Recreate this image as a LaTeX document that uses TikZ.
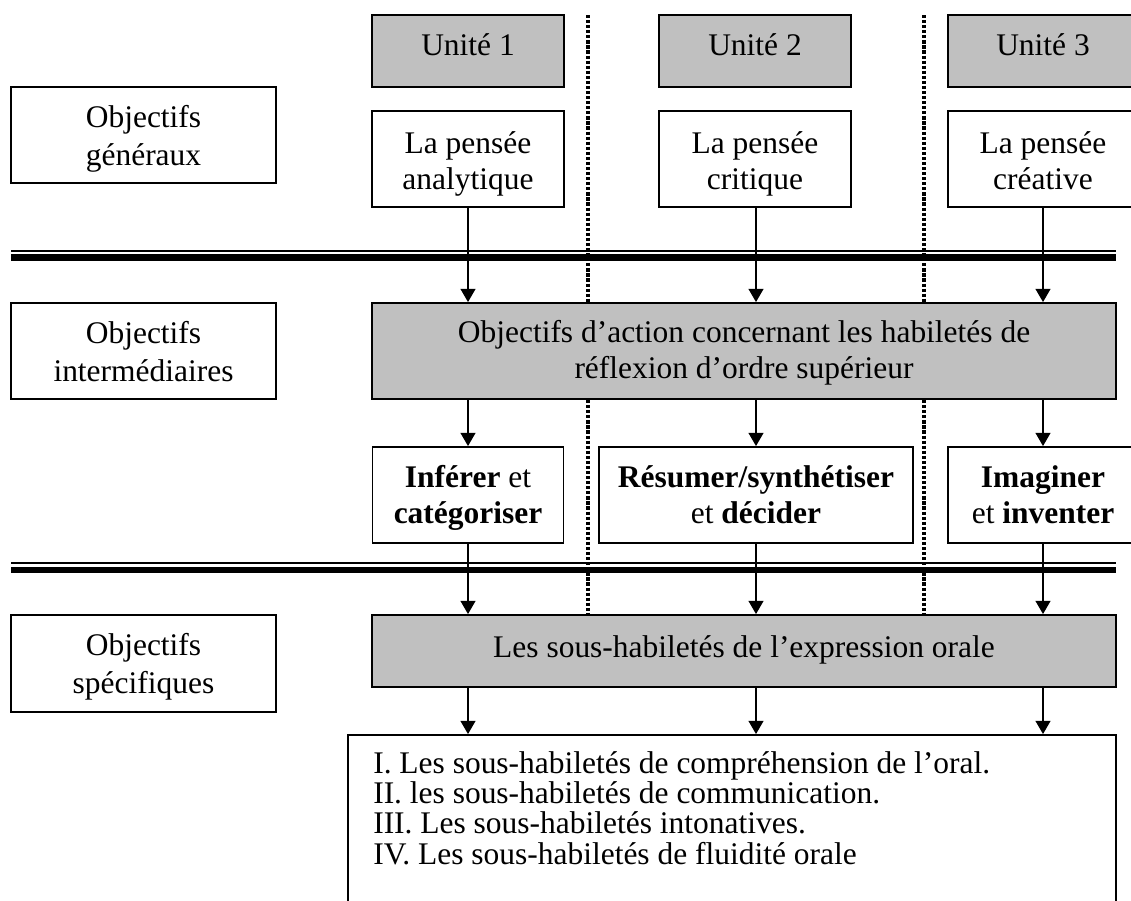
\documentclass[tikz,border=0pt]{standalone}
\usepackage{fontspec}
\setmainfont{Liberation Serif}
\usetikzlibrary{arrows.meta}
\definecolor{boxgray}{HTML}{C0C0C0}

% strut of given height and depth
\newcommand\lstrut[2]{\rule[-#2]{0pt}{\dimexpr #1+#2\relax}}
% two centred lines with fixed struts: first-line height, second-line height, texts
\newcommand\pair[4]{\vbox{\offinterlineskip
  \halign{\hfil##\hfil\cr\lstrut{#1}{6pt}#3\cr\lstrut{#2}{6pt}#4\cr}}}
% one left-aligned line of the list
\newcommand\listline[1]{\hbox{\lstrut{16.3pt}{6.2pt}#1}}

\begin{document}
\begin{tikzpicture}[x=0.75pt,y=-0.75pt,
  every node/.style={font=\fontsize{23.6}{27}\selectfont, inner sep=0pt, align=center},
  sz/.style 2 args={minimum width=#1*0.75pt, minimum height=#2*0.75pt},
  oneline/.style 2 args={text height=#1, text depth=#2},
  plainbox/.style={draw=black, line width=1.3pt, fill=white},
  graybox/.style={draw=black, line width=1.3pt, fill=boxgray},
  arr/.style={line width=1.8pt, -{Triangle[width=11pt,length=10pt]}},
  divider/.style={line width=2.4pt, dash pattern=on 2.4pt off 1.4pt},
  thinrule/.style={line width=1.5pt},
  thickrule/.style={line width=5.2pt}]

\useasboundingbox (0,0) rectangle (1131,900);

% dotted separators between the three units
\draw[divider] (588,15) -- (588,615);
\draw[divider] (924,15) -- (924,615);

% row labels
\node[plainbox, sz={265}{96}] (og) at (143.5,135) {\pair{23pt}{22.5pt}{Objectifs}{généraux}};
\node[plainbox, sz={265}{96}] (oi) at (143.5,351) {\pair{23pt}{22.5pt}{Objectifs}{intermédiaires}};
\node[plainbox, sz={265}{97}] (os) at (143.5,663.5) {\pair{23pt}{22.5pt}{Objectifs}{spécifiques}};

% units
\node[graybox, oneline={16pt}{10pt}, sz={192}{72}] (u1) at (468,51) {Unité 1};
\node[graybox, oneline={16pt}{10pt}, sz={192}{72}] (u2) at (755,51) {Unité 2};
\node[graybox, oneline={16pt}{10pt}, sz={190}{72}] (u3) at (1043,51) {Unité 3};

% general objectives
\node[plainbox, sz={192}{96}] (pa) at (468,159) {\pair{24pt}{21pt}{La pensée}{analytique}};
\node[plainbox, sz={192}{96}] (pc) at (755,159) {\pair{24pt}{21pt}{La pensée}{critique}};
\node[plainbox, sz={190}{96}] (pr) at (1043,159) {\pair{24pt}{21pt}{La pensée}{créative}};

% intermediate objectives
\node[graybox, sz={744}{96}] (act) at (744,351)
  {\pair{19.5pt}{21pt}{Objectifs d’action concernant les habiletés de}{réflexion d’ordre supérieur}};

\node[plainbox, sz={191}{96}] (inf) at (468,495)
  {\pair{21.5pt}{21pt}{\textbf{Inférer} et}{\textbf{catégoriser}}};
\node[plainbox, sz={314}{96}] (res) at (756,495)
  {\pair{21.5pt}{21pt}{\textbf{Résumer/synthétiser}}{et \textbf{décider}}};
\node[plainbox, sz={190}{96}] (ima) at (1043,495)
  {\pair{21.5pt}{21pt}{\textbf{Imaginer}}{et \textbf{inventer}}};

% specific objectives
\node[graybox, oneline={16pt}{7pt}, sz={744}{72}] (sh) at (744,651) {Les sous-habiletés de l’expression orale};

\node[plainbox, sz={768}{225}] (list) at (732,847.5) {};
\node[anchor=north west] (listtext) at (373,751.3)
  {\vbox{\offinterlineskip
   \listline{I. Les sous-habiletés de compréhension de l’oral.}
   \listline{II. les sous-habiletés de communication.}
   \listline{III. Les sous-habiletés intonatives.}
   \listline{IV. Les sous-habiletés de fluidité orale}}};

% double rules between levels
\draw[thinrule] (11,250.5) -- (1116,250.5);
\draw[thickrule] (11,257.8) -- (1116,257.8);
\draw[thinrule] (11,563) -- (1116,563);
\draw[thickrule] (11,570) -- (1116,570);

% arrows
\draw[arr] (pa.south) -- (pa.south |- act.north);
\draw[arr] (pc.south -| res) -- (res |- act.north);
\draw[arr] (pr.south) -- (pr.south |- act.north);

\draw[arr] (act.south -| inf) -- (inf.north);
\draw[arr] (act.south -| res) -- (res.north);
\draw[arr] (act.south -| ima) -- (ima.north);

\draw[arr] (inf.south) -- (inf.south |- sh.north);
\draw[arr] (res.south) -- (res.south |- sh.north);
\draw[arr] (ima.south) -- (ima.south |- sh.north);

\draw[arr] (sh.south -| inf) -- (inf |- list.north);
\draw[arr] (sh.south -| res) -- (res |- list.north);
\draw[arr] (sh.south -| ima) -- (ima |- list.north);
\end{tikzpicture}
\end{document}
